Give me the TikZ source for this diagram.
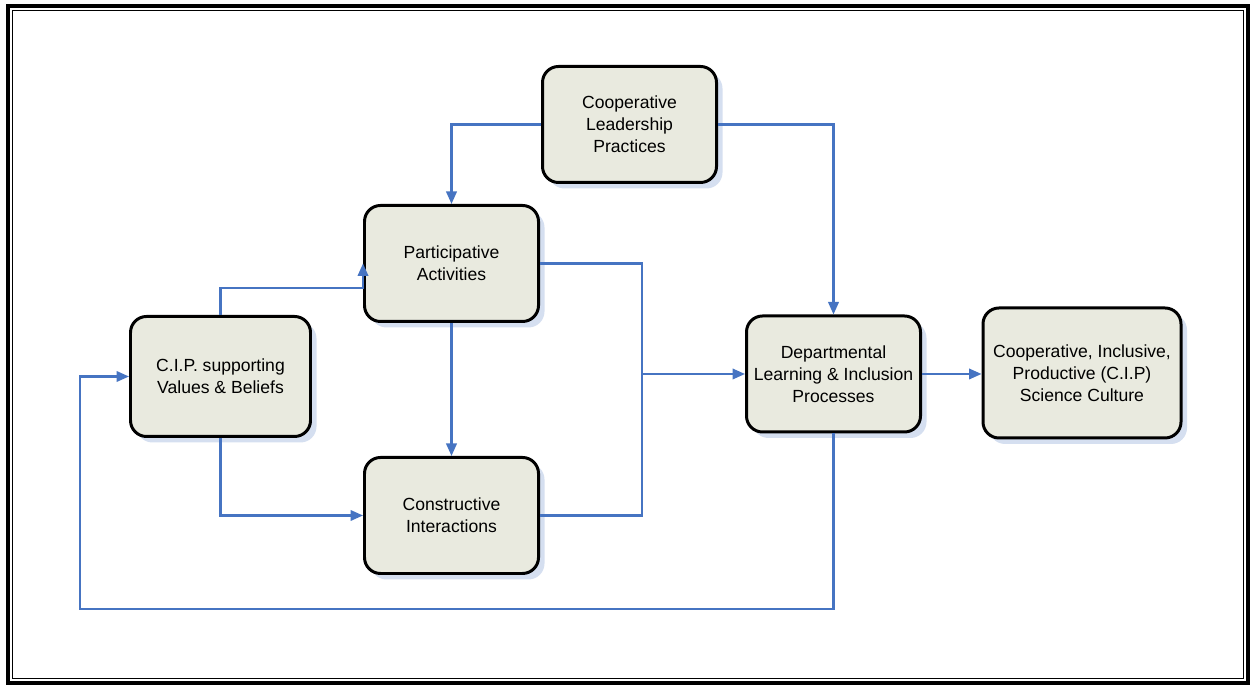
\documentclass[tikz,border=0pt]{standalone}
\usepackage{fontspec}
\setmainfont{Liberation Sans}
\usepackage{tikz}
\usetikzlibrary{arrows.meta,shadows}
\definecolor{boxfill}{RGB}{233,234,223}
\definecolor{shadowblue}{RGB}{213,223,240}
\definecolor{linkblue}{RGB}{70,116,194}

\begin{document}
\begin{tikzpicture}
\tikzstyle{every node}+=[font=\fontsize{10}{12.5}\selectfont]
\tikzstyle{box}=[draw=black, line width=1.7pt, fill=boxfill, rounded corners=0.32cm, align=center, minimum width=3.48cm, minimum height=2.32cm, inner sep=2pt, drop shadow={shadow xshift=0.12cm, shadow yshift=-0.12cm, fill=shadowblue, opacity=1, draw=none}]
\tikzstyle{link}=[draw=linkblue, line width=1.25pt]
\tikzstyle{arrow}=[link, -{Triangle[length=0.25cm, width=0.21cm]}]
\useasboundingbox (0,0) rectangle (25,13.72);
\draw [black, line width=1.8pt] (0.16,0.06) rectangle (24.96,13.6);
\draw [black, line width=0.7pt] (0.25,0.15) rectangle (24.87,13.51);
\node [box] (clp) at (12.59,11.23) {Cooperative\\Leadership\\Practices};
\node [box] (pa) at (9.03,8.45) {Participative\\Activities};
\node [box, minimum width=3.6cm, minimum height=2.4cm] (cip) at (4.41,6.19) {C.I.P. supporting\\Values \& Beliefs};
\node [box] (ci) at (9.03,3.41) {Constructive\\Interactions};
\node [box] (dlp) at (16.67,6.24) {Departmental\\Learning \& Inclusion\\Processes};
\node [box, minimum width=3.96cm, minimum height=2.6cm] (cul) at (21.64,6.26) {Cooperative, Inclusive,\\Productive (C.I.P)\\Science Culture};
\coordinate (join) at (12.84,6.24);
\coordinate (back) at (1.6,1.54);
\draw [arrow] (clp.west) -| (pa.north);
\draw [arrow] (clp.east) -| (dlp.north);
\draw [arrow] (cip.north) |- ([yshift=-0.49cm]pa.west) -- (pa.west);
\draw [arrow] (cip.south) |- (ci.west);
\draw [arrow] (pa.south) -- (ci.north);
\draw [link] (pa.east) -| (join);
\draw [link] (ci.east) -| (join);
\draw [arrow] (join) -- (dlp.west);
\draw [arrow] (dlp.east) -- (dlp.east -| cul.west);
\draw [arrow] (dlp.south) |- (back) |- (cip.west);
\end{tikzpicture}
\end{document}
